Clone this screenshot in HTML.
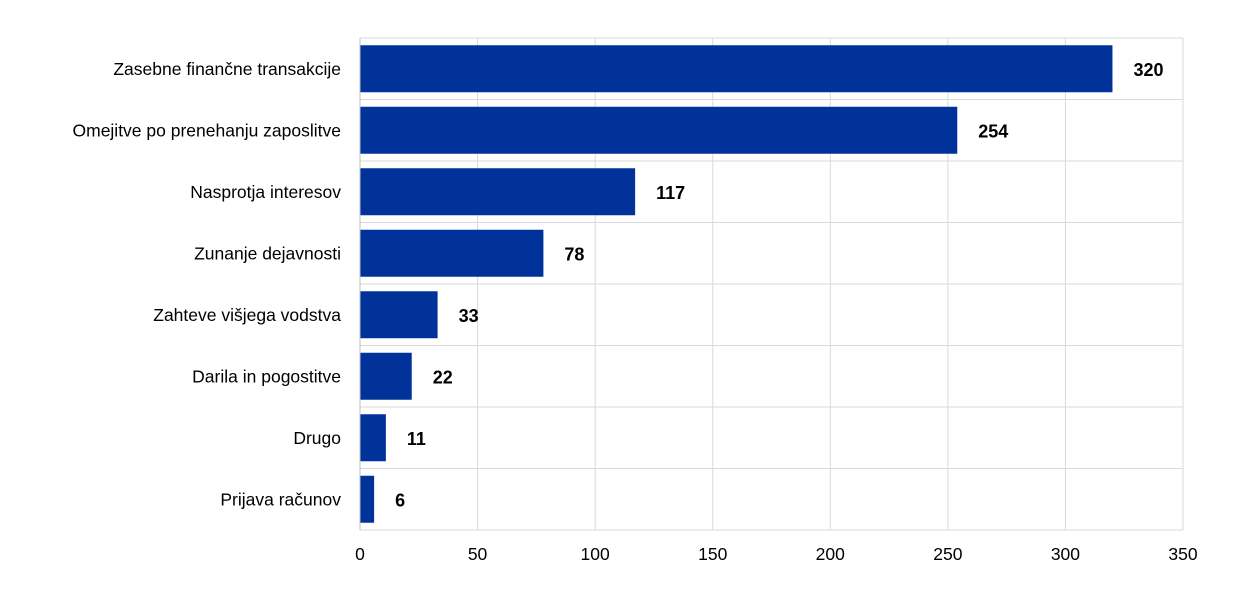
<!DOCTYPE html>
<html><head><meta charset="utf-8"><style>
body{margin:0;background:#fff;}
svg text{font-family:"Liberation Sans",sans-serif;}
</style></head><body>
<svg id="chart" width="1240" height="590" xmlns="http://www.w3.org/2000/svg"></svg>
<script>
const categories=["Zasebne finančne transakcije","Omejitve po prenehanju zaposlitve","Nasprotja interesov","Zunanje dejavnosti","Zahteve višjega vodstva","Darila in pogostitve","Drugo","Prijava računov"];
const values=[320,254,117,78,33,22,11,6];
const ticks=[0,50,100,150,200,250,300,350];
const svg=document.getElementById('chart');
const NS='http://www.w3.org/2000/svg';
const x0=360,x1=1183,yTop=38,yBot=530,xMax=350;
const xs=v=>x0+(x1-x0)*v/xMax;
const rowH=(yBot-yTop)/categories.length;
function mk(t,a,p){const e=document.createElementNS(NS,t);for(const k in a)e.setAttribute(k,a[k]);(p||svg).appendChild(e);return e;}
const grid=mk('g',{});


ticks.forEach(t=>{if(t>0)mk('line',{x1:xs(t),x2:xs(t),y1:yTop,y2:yBot,stroke:'#d9d9d9','stroke-width':1},grid);});
for(let i=0;i<=categories.length;i++){mk('line',{x1:x0,x2:x1,y1:yTop+i*rowH,y2:yTop+i*rowH,stroke:'#d9d9d9','stroke-width':1},grid);}
categories.forEach((c,i)=>{
 const yc=yTop+rowH*(i+0.5);
 const b=mk('rect',{x:x0,y:yc-23.5,width:xs(values[i])-x0,height:47,fill:'#003299'});
 
 
 const l=mk('text',{x:341,y:yc+6,'text-anchor':'end','font-size':17.5,fill:'#000'});
 l.textContent=c;
 
 
 const v=mk('text',{x:xs(values[i])+21,y:yc+7,'font-size':18,'font-weight':'bold',fill:'#000'});
 v.textContent=values[i];
 
 
});
const ax=mk('line',{x1:x0,x2:x0,y1:yTop,y2:yBot,stroke:'#bfbfbf','stroke-width':1});


ticks.forEach(t=>{
 const tx=mk('text',{x:xs(t),y:560,'text-anchor':'middle','font-size':17.5,fill:'#000'});
 tx.textContent=t;
 
 
});
</script>
</body></html>
